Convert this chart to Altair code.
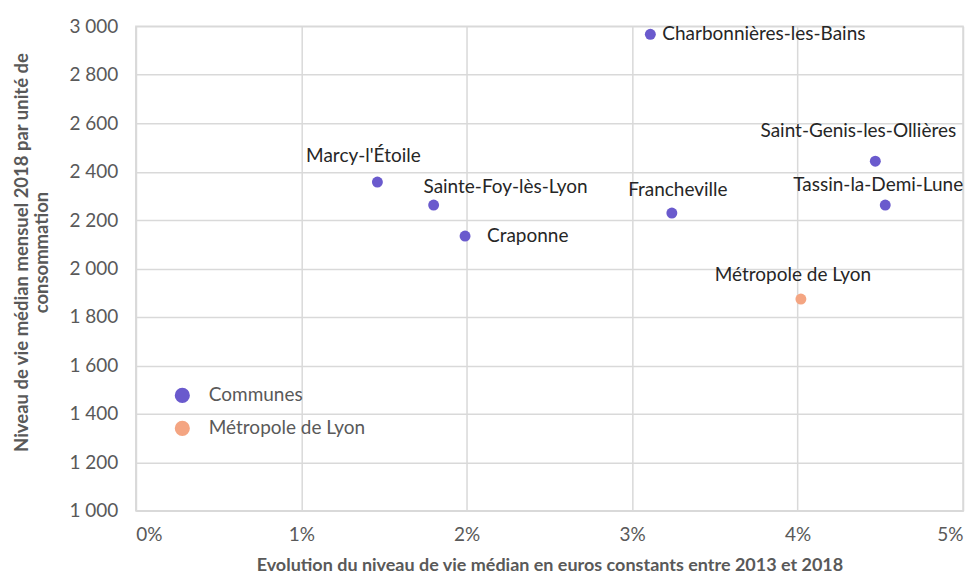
import altair as alt
import pandas as pd

names = ["Marcy-l'Étoile", "Sainte-Foy-lès-Lyon", "Craponne", "Charbonnières-les-Bains",
         "Francheville", "Saint-Genis-les-Ollières", "Tassin-la-Demi-Lune", "Métropole de Lyon"]
evolution = [0.0146, 0.0180, 0.0199, 0.0311, 0.0324, 0.0447, 0.0453, 0.0402]
niveau = [2357, 2262, 2134, 2967, 2229, 2443, 2262, 1874]
groupe = ["Communes"] * 7 + ["Métropole de Lyon"]

# label placement (pixels offset from point, alignment)
label_style = {
    "Marcy-l'Étoile": (-14, -26, "center"),
    "Sainte-Foy-lès-Lyon": (72, -18, "center"),
    "Craponne": (22, 0, "left"),
    "Charbonnières-les-Bains": (12, 0, "left"),
    "Francheville": (6, -23, "center"),
    "Saint-Genis-les-Ollières": (-17, -30, "center"),
    "Tassin-la-Demi-Lune": (-7, -20, "center"),
    "Métropole de Lyon": (-8, -24, "center"),
}

df = pd.DataFrame({"name": names, "x": evolution, "y": niveau, "groupe": groupe})

FONT = "Lato"
GREY = "#595959"
FS = 19

xenc = alt.X("x:Q", scale=alt.Scale(domain=[0, 0.05], nice=False),
             axis=alt.Axis(format=".0%", values=[0, 0.01, 0.02, 0.03, 0.04, 0.05],
                           title="Evolution du niveau de vie médian en euros constants entre 2013 et 2018",
                           titleFontWeight="bold", titleFontSize=18, titleColor=GREY, titlePadding=12,
                           labelFontSize=FS, labelColor=GREY, labelPadding=15, tickSize=0,
                           gridColor="#d9d9d9", gridWidth=1.5, domainColor="#d9d9d9", domainWidth=1.5,
                           labelFont=FONT, titleFont=FONT))
yenc = alt.Y("y:Q", scale=alt.Scale(domain=[1000, 3000], nice=False),
             axis=alt.Axis(values=list(range(1000, 3001, 200)),
                           labelExpr="replace(format(datum.value, ','), ',', ' ')",
                           title=["Niveau de vie médian mensuel 2018 par unité de", "consommation"],
                           titleFontWeight="bold", titleFontSize=18.5, titleColor=GREY, titlePadding=18,
                           titleLineHeight=20, titleY=226,
                           labelFontSize=FS, labelColor=GREY, labelPadding=18, tickSize=0,
                           gridColor="#d9d9d9", gridWidth=1.5, domainColor="#d9d9d9", domainWidth=1.5,
                           labelFont=FONT, titleFont=FONT))

points = alt.Chart(df).mark_circle(size=120, opacity=1).encode(
    x=xenc, y=yenc,
    color=alt.Color("groupe:N",
                    scale=alt.Scale(domain=["Communes", "Métropole de Lyon"], range=["#6a5acd", "#f4a582"]),
                    legend=alt.Legend(title=None, orient="none", legendX=37, legendY=360,
                                      symbolType="circle", symbolSize=230, labelFontSize=FS,
                                      labelColor=GREY, labelFont=FONT, rowPadding=13, labelOffset=17,
                                      symbolOpacity=1)),
)

layers = [points]
for n in names:
    dx, dy, align = label_style[n]
    layers.append(
        alt.Chart(df).transform_filter(alt.datum.name == n).mark_text(
            dx=dx, dy=dy, align=align, baseline="middle", fontSize=FS, font=FONT, color="#262626"
        ).encode(x="x:Q", y="y:Q", text="name:N")
    )

chart = alt.layer(*layers).properties(
    width=828, height=485,
    autosize=alt.AutoSizeParams(type="none"),
    padding={"left": 128, "top": 18, "right": 6, "bottom": 68},
).configure_view(stroke="#d9d9d9", strokeWidth=1.5)

chart.save("out.html", embed_options={"renderer": "svg", "actions": False})
